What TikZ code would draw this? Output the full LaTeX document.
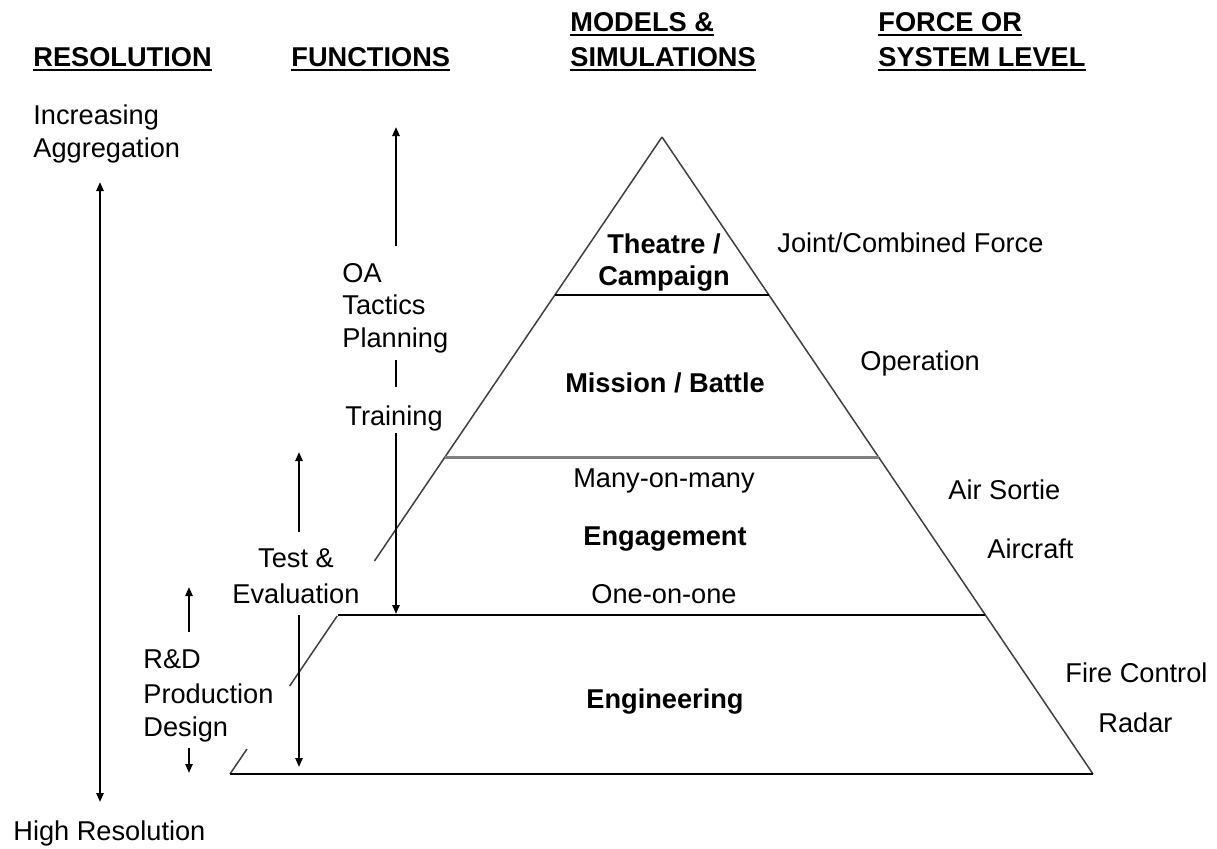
\documentclass[tikz,border=0pt]{standalone}
\usepackage{fontspec}
\setmainfont{Liberation Sans}
\usetikzlibrary{arrows.meta,calc}
\begin{document}
\begin{tikzpicture}[x=0.5pt,y=-0.5pt,
  txt/.style={inner sep=0pt, font=\fontsize{13.6}{16}\selectfont},
  hd/.style={inner sep=0pt, font=\fontsize{13.6}{16}\selectfont\bfseries, anchor=base west},
  lt/.style={txt, anchor=base west},
  ct/.style={txt, anchor=base},
  bt/.style={inner sep=0pt, font=\fontsize{13.6}{16}\selectfont\bfseries, anchor=base},
  arr/.style={line width=1pt, -{Triangle[length=4.5pt,width=3.6pt]}},
  darr/.style={line width=1pt, {Triangle[length=4.5pt,width=3.6pt]}-{Triangle[length=4.5pt,width=3.6pt]}},
  edge/.style={line width=0.75pt, draw=black!75},
  level/.style={line width=1pt, draw=black},
  glevel/.style={line width=1.5pt, draw=black!50},
  uline/.style={line width=1pt}
]
\fill[white] (0,0) rectangle (1217,848);
\useasboundingbox (0,0) rectangle (1217,848);

% headers
\node[hd] (hres) at (33,66) {RESOLUTION};
\node[hd] (hfun) at (291,66) {FUNCTIONS};
\node[hd] (hmod1) at (570,31) {MODELS \&};
\node[hd] (hmod2) at (570,66) {SIMULATIONS};
\node[hd] (hfor1) at (878,31) {FORCE OR};
\node[hd] (hfor2) at (878,66) {SYSTEM LEVEL};
\foreach \h in {hres,hfun,hmod1,hmod2,hfor1,hfor2}
  \draw[uline] ([yshift=-1.75pt]\h.base west) -- ([yshift=-1.75pt]\h.base east);

% pyramid
\coordinate (A) at (662,137);
\coordinate (BL) at (230,774);
\coordinate (BR) at (1093,774);
\draw[edge] (A) -- (BR);
\coordinate (l561) at ($(A)!{(561-137)/637}!(BL)$);
\coordinate (l616) at ($(A)!{(616-137)/637}!(BL)$);
\coordinate (l686) at ($(A)!{(686-137)/637}!(BL)$);
\coordinate (l749) at ($(A)!{(749-137)/637}!(BL)$);
\draw[edge] (A) -- (l561);
\draw[edge] (l616) -- (l686);
\draw[edge] (l749) -- (BL);
\coordinate (L1) at ($(A)!{(295-137)/637}!(BL)$);
\coordinate (R1) at ($(A)!{(295-137)/637}!(BR)$);
\coordinate (L2) at ($(A)!{(457-137)/637}!(BL)$);
\coordinate (R2) at ($(A)!{(457-137)/637}!(BR)$);
\coordinate (L3) at ($(A)!{(615-137)/637}!(BL)$);
\coordinate (R3) at ($(A)!{(615-137)/637}!(BR)$);
\draw[level] (L1) -- (R1);
\draw[glevel] (L2) -- (R2);
\draw[level] (L3) -- (R3);
\draw[level] (BL) -- (BR);

% pyramid labels
\node[bt] (theatre) at (664,253) {Theatre /};
\node[bt] (campaign) at (664,285) {Campaign};
\node[bt] (mission) at (665,392) {Mission / Battle};
\node[ct] (many) at (664,487) {Many-on-many};
\node[bt] (engage) at (665,545) {Engagement};
\node[ct] (one) at (664,603) {One-on-one};
\node[bt] (engin) at (665,708) {Engineering};

% force level labels
\node[lt] (joint) at (777,252) {Joint/Combined Force};
\node[lt] (oper) at (860,370) {Operation};
\node[lt] (sortie) at (948,499) {Air Sortie};
\node[lt] (aircraft) at (987,558) {Aircraft};
\node[lt] (fire) at (1065,682) {Fire Control};
\node[lt] (radar) at (1098,732) {Radar};

% resolution column
\node[lt] (incr) at (33,124) {Increasing};
\node[lt] (aggr) at (33,157) {Aggregation};
\node[lt] (high) at (13,840) {High Resolution};
\coordinate (resT) at (100,182);
\coordinate (resB) at (100,802);
\draw[darr] (resT) -- (resB);

% functions column
\node[lt] (oa) at (342,282) {OA};
\node[lt] (tactics) at (342,314) {Tactics};
\node[lt] (planning) at (342,347) {Planning};
\node[lt] (training) at (345,425) {Training};
\coordinate (oaS) at (396,246);
\coordinate (oaT) at (396,127);
\draw[arr] (oaS) -- (oaT);
\coordinate (tr1) at (396,360);
\coordinate (tr2) at (396,387);
\draw[line width=1pt] (tr1) -- (tr2);
\coordinate (trS) at (396,433);
\coordinate (trT) at (396,614);
\draw[arr] (trS) -- (trT);

\node[ct] (test) at (296,567) {Test \&};
\node[lt] (eval) at (232,603) {Evaluation};
\coordinate (teUS) at (299,532);
\coordinate (teUT) at (299,452);
\draw[arr] (teUS) -- (teUT);
\coordinate (teDS) at (299,615);
\coordinate (teDT) at (299,767);
\draw[arr] (teDS) -- (teDT);

\node[lt] (rd) at (143,668) {R\&D};
\node[lt] (prod) at (143,703) {Production};
\node[lt] (design) at (143,736) {Design};
\coordinate (rdUS) at (189,632);
\coordinate (rdUT) at (189,587);
\draw[arr] (rdUS) -- (rdUT);
\coordinate (rdDS) at (189,748);
\coordinate (rdDT) at (189,773);
\draw[arr] (rdDS) -- (rdDT);
\end{tikzpicture}
\end{document}
